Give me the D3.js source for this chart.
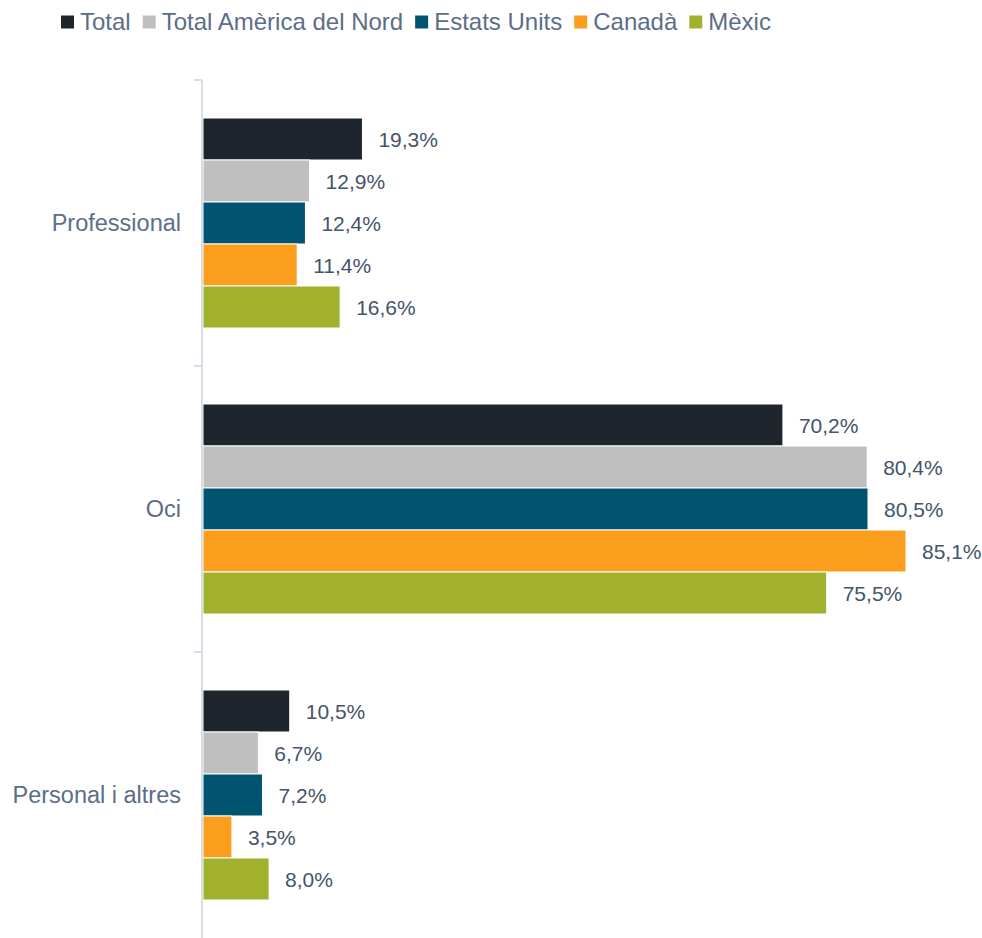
<!DOCTYPE html>
<html lang="ca">
<head>
<meta charset="utf-8">
<title>Motiu del viatge</title>
<style>
  body { margin: 0; background: #fff; font-family: "Liberation Sans", Arial, sans-serif; }
</style>
</head>
<body>
<div class="graph"></div>
<script src="https://cdn.jsdelivr.net/npm/d3@7"></script>
<script>
// data
var categories = ["Professional", "Oci", "Personal i altres"];
var seriesNames = ["Total", "Total Amèrica del Nord", "Estats Units", "Canadà", "Mèxic"];
var seriesColors = ["#1f252d", "#bfbfbf", "#00546f", "#fb9e1d", "#a2b12d"];
var total       = [19.3, 70.2, 10.5];
var totalNord   = [12.9, 80.4, 6.7];
var estatsUnits = [12.4, 80.5, 7.2];
var canada      = [11.4, 85.1, 3.5];
var mexic       = [16.6, 75.5, 8.0];
var series = [total, totalNord, estatsUnits, canada, mexic];

var width = 982, height = 938;
var margin = {top: 80, right: 76, bottom: 0, left: 203};

var svg = d3.select(".graph").append("svg")
  .attr("width", width)
  .attr("height", height);

var x = d3.scaleLinear()
  .domain([0, 85.1])
  .range([margin.left, width - margin.right]);

var y = d3.scaleBand()
  .domain(categories)
  .range([margin.top, height - margin.bottom]);

var barH = 42;
var fmt = function(v) { return d3.format(".1f")(v).replace(".", ",") + "%"; };

// bars + value labels
categories.forEach(function(cat, ci) {
  var yc = y(cat) + y.bandwidth() / 2;
  series.forEach(function(s, si) {
    var y0 = yc + (si - series.length / 2) * barH;
    svg.append("rect")
      .attr("x", x(0))
      .attr("y", y0)
      .attr("width", x(s[ci]) - x(0))
      .attr("height", barH)
      .attr("fill", seriesColors[si])
      .attr("stroke", "#fff")
      .attr("stroke-width", 1);
    svg.append("text")
      .attr("x", x(s[ci]) + 16)
      .attr("y", y0 + barH / 2 + 1)
      .attr("dy", "0.35em")
      .attr("fill", "#44546a")
      .style("font-size", "21px")
      .text(fmt(s[ci]));
  });
});

// y axis, ticks sit between the categories
var axis = svg.append("g")
  .attr("transform", "translate(" + (margin.left - 1) + ",0)");
axis.append("line")
  .attr("x1", 0).attr("x2", 0)
  .attr("y1", margin.top).attr("y2", height)
  .attr("stroke", "#d9dde5").attr("stroke-width", 2);
d3.range(categories.length).forEach(function(i) {
  var ty = margin.top + i * y.step();
  axis.append("line")
    .attr("x1", -8).attr("x2", 0)
    .attr("y1", ty).attr("y2", ty)
    .attr("stroke", "#d9dde5").attr("stroke-width", 2);
});
categories.forEach(function(cat) {
  axis.append("text")
    .attr("x", -21)
    .attr("y", y(cat) + y.bandwidth() / 2)
    .attr("dy", "0.35em")
    .attr("text-anchor", "end")
    .attr("fill", "#5b6e88")
    .style("font-size", "23.5px")
    .text(cat);
});

// legend
var legend = svg.append("g").attr("transform", "translate(61,22)");
var lx = 0;
seriesNames.forEach(function(name, i) {
  var item = legend.append("g").attr("transform", "translate(" + lx + ",0)");
  item.append("rect")
    .attr("x", 0).attr("y", -6.5)
    .attr("width", 13).attr("height", 13)
    .attr("fill", seriesColors[i]);
  var t = item.append("text")
    .attr("x", 19)
    .attr("dy", "0.35em")
    .attr("fill", "#5b6e88")
    .style("font-size", "24px")
    .text(name);
  lx += 19 + t.node().getComputedTextLength() + 12;
});
</script>
</body>
</html>
